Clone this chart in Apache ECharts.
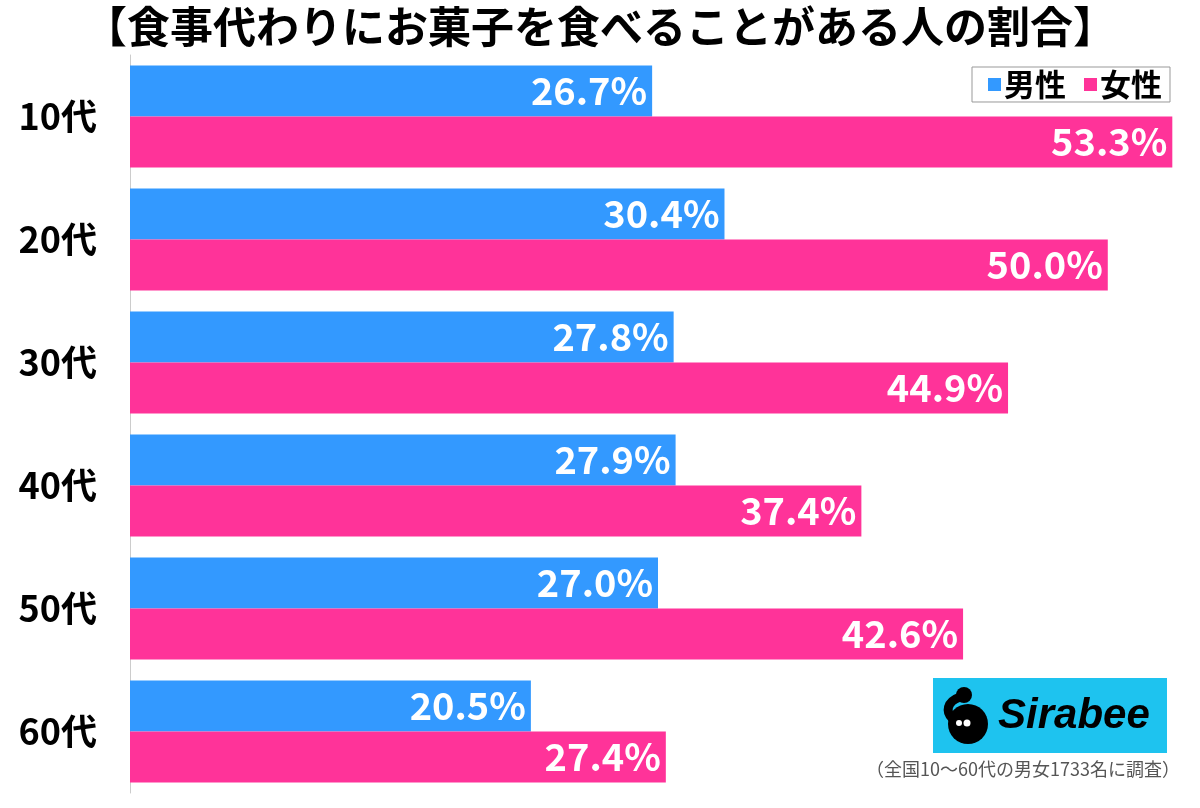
<!DOCTYPE html>
<html><head><meta charset="utf-8">
<script src="https://cdn.jsdelivr.net/npm/echarts@6/dist/echarts.min.js"></script>
<style>html,body{margin:0;padding:0;background:#fff}#c{width:1200px;height:808px}</style>
</head><body><div id="c"></div>
<script>
const categories = ['10代','20代','30代','40代','50代','60代'];
const seriesNames = ['男性','女性'];
const male = [26.7, 30.4, 27.8, 27.9, 27.0, 20.5];
const female = [53.3, 50.0, 44.9, 37.4, 42.6, 27.4];
const titleText = '【食事代わりにお菓子を食べることがある人の割合】';
const noteText = '（全国10～60代の男女1733名に調査）';

const BLUE = '#3399ff', PINK = '#ff3399';
const FONT = '"Noto Sans CJK JP", sans-serif';
const chart = echarts.init(document.getElementById('c'), null, {renderer:'canvas'});
const lbl = {
  show: true, position: 'insideRight', distance: 5,
  color: '#fff', fontSize: 38, fontWeight: 'bold', fontFamily: FONT,
  formatter: p => p.value.toFixed(1) + '%'
};
chart.setOption({
  backgroundColor: '#fff',
  animation: false,
  title: {
    text: titleText, left: 'center', top: 0,
    textStyle: {fontSize: 43, fontWeight: 'bold', color: '#000', fontFamily: FONT}
  },
  legend: {
    data: seriesNames, right: 30, top: 67,
    itemWidth: 13, itemHeight: 13, itemGap: 18, icon: 'rect',
    borderColor: '#999', borderWidth: 1, padding: [2, 8, 2, 16],
    backgroundColor: '#fff',
    textStyle: {fontSize: 31, fontWeight: 'bold', color: '#000', fontFamily: FONT, padding: [0,0,0,-2]}
  },
  grid: {left: 130, top: 55, height: 738, width: 1056},
  xAxis: {type: 'value', min: 0, max: 54, show: false},
  yAxis: {
    type: 'category', data: categories, inverse: true,
    axisLine: {show: true, lineStyle: {color: '#ccc', width: 1}},
    axisTick: {show: false},
    axisLabel: {fontSize: 36, fontWeight: 'bold', color: '#000', fontFamily: FONT, margin: 33}
  },
  series: [
    {name: seriesNames[0], type: 'bar', data: male, barWidth: 51, barGap: '0%',
     itemStyle: {color: BLUE}, label: lbl},
    {name: seriesNames[1], type: 'bar', data: female, barWidth: 51, barGap: '0%',
     itemStyle: {color: PINK}, label: lbl}
  ],
  graphic: [
    {type: 'rect', shape: {x: 933, y: 678, width: 234, height: 75}, style: {fill: '#1ec3ef'}, z: 10},
    {type: 'circle', shape: {cx: 968, cy: 724, r: 20}, style: {fill: '#000'}, z: 11},
    {type: 'circle', shape: {cx: 964, cy: 695, r: 8}, style: {fill: '#000'}, z: 11},
    {type: 'bezierCurve', shape: {x1: 960, y1: 697, x2: 952, y2: 718, cpx1: 946, cpy1: 702, cpx2: 946, cpy2: 712},
     style: {stroke: '#000', lineWidth: 9, fill: null}, z: 11},
    {type: 'circle', shape: {cx: 959, cy: 723, r: 3}, style: {fill: '#fff'}, z: 12},
    {type: 'circle', shape: {cx: 967, cy: 723, r: 3.5}, style: {fill: '#fff'}, z: 12},
    {type: 'text', left: 998, top: 695, z: 11,
     style: {text: 'Sirabee', fill: '#000', font: 'italic bold 42px "Liberation Sans", sans-serif'}},
    {type: 'text', right: 20, top: 760, z: 11,
     style: {text: noteText, fill: '#555', font: '18px ' + FONT}}
  ]
});
</script></body></html>
